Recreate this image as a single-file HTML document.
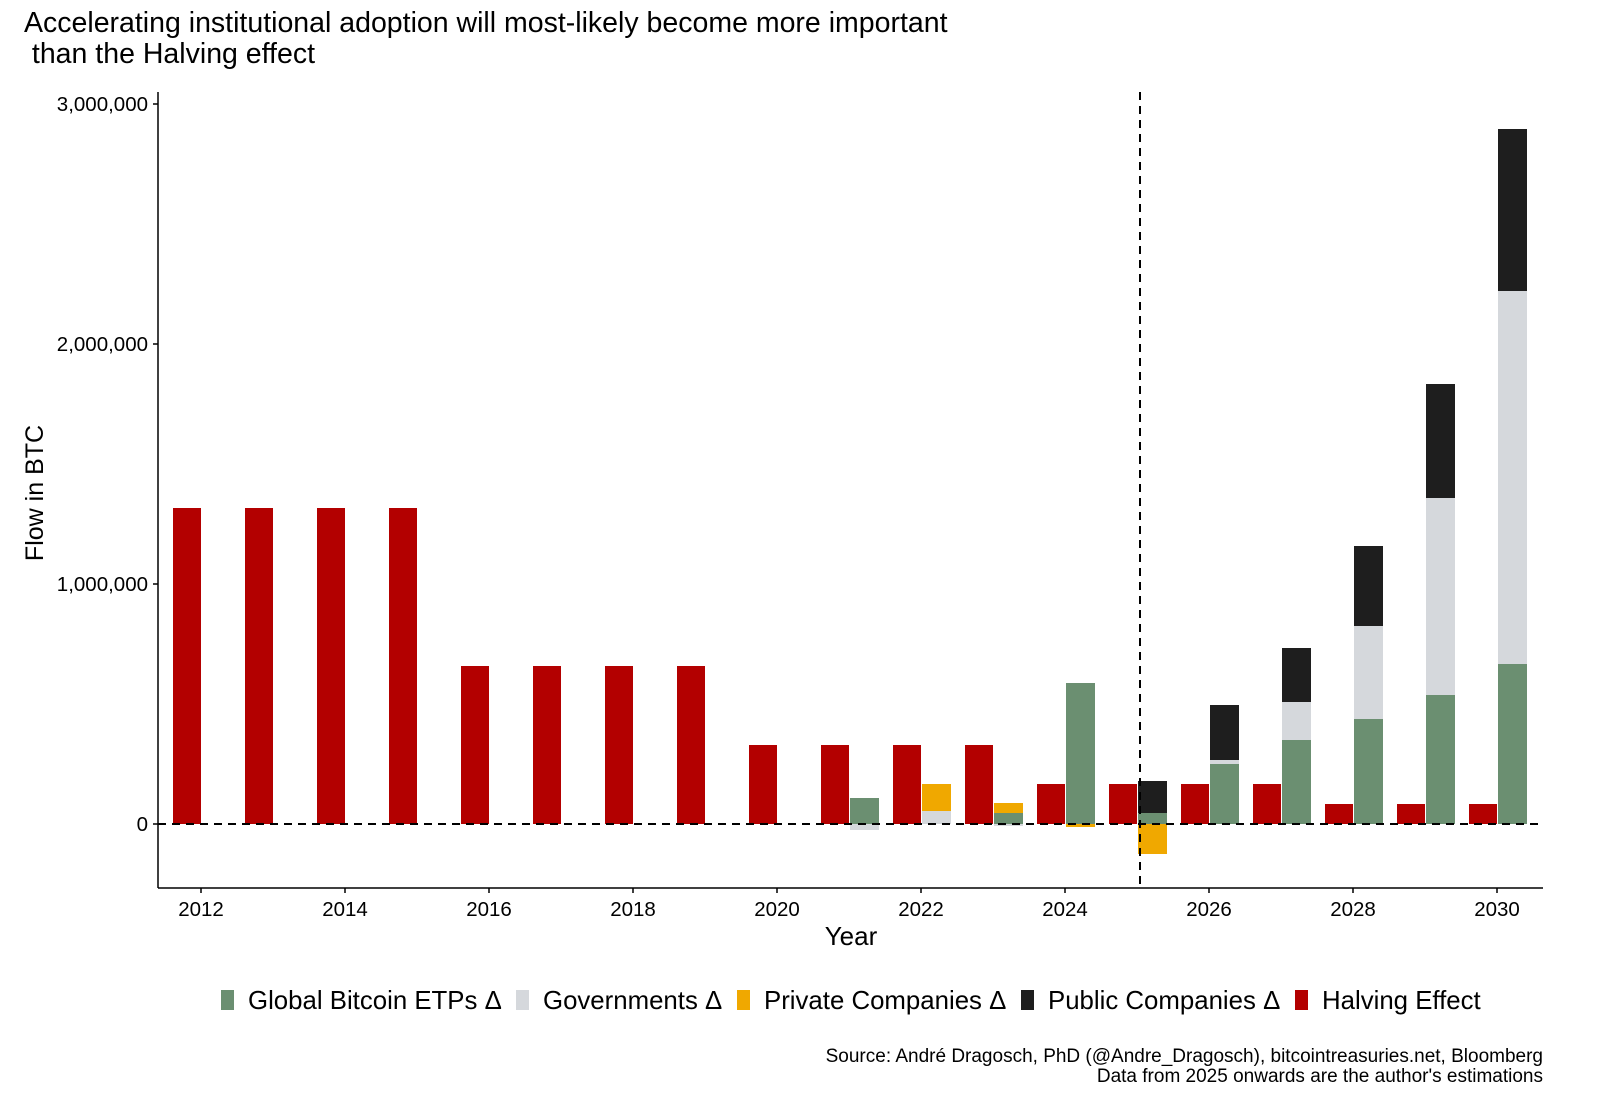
<!DOCTYPE html>
<html><head><meta charset="utf-8"><style>
html,body{margin:0;padding:0;background:#fff;}
svg{display:block;font-family:"Liberation Sans",Arial,sans-serif;}
</style></head><body>
<svg width="1600" height="1120" viewBox="0 0 1600 1120" xmlns="http://www.w3.org/2000/svg">
<rect width="1600" height="1120" fill="#fff"/>
<text x="24" y="32" font-size="28.5" fill="#000">Accelerating institutional adoption will most-likely become more important</text>
<text x="24" y="63" font-size="28.5" fill="#000">&#160;than the Halving effect</text>

<g fill="#b30000">
<rect x="173" y="508" width="28" height="316"/>
<rect x="245" y="508" width="28" height="316"/>
<rect x="317" y="508" width="28" height="316"/>
<rect x="389" y="508" width="28" height="316"/>
<rect x="461" y="666" width="28" height="158"/>
<rect x="533" y="666" width="28" height="158"/>
<rect x="605" y="666" width="28" height="158"/>
<rect x="677" y="666" width="28" height="158"/>
<rect x="749" y="745" width="28" height="79"/>
<rect x="821" y="745" width="28" height="79"/>
<rect x="893" y="745" width="28" height="79"/>
<rect x="965" y="745" width="28" height="79"/>
<rect x="1037" y="784" width="28" height="40"/>
<rect x="1109" y="784" width="28" height="40"/>
<rect x="1181" y="784" width="28" height="40"/>
<rect x="1253" y="784" width="28" height="40"/>
<rect x="1325" y="804" width="28" height="20"/>
<rect x="1397" y="804" width="28" height="20"/>
<rect x="1469" y="804" width="28" height="20"/>
</g>
<rect x="850" y="798" width="29" height="26" fill="#6b8f71"/>
<rect x="850" y="824" width="29" height="6" fill="#d5d8dc"/>
<rect x="922" y="811" width="29" height="13" fill="#d5d8dc"/>
<rect x="922" y="784" width="29" height="27" fill="#f0a800"/>
<rect x="994" y="813" width="29" height="11" fill="#6b8f71"/>
<rect x="994" y="803" width="29" height="10" fill="#f0a800"/>
<rect x="994" y="824" width="29" height="2" fill="#d5d8dc"/>
<rect x="1066" y="683" width="29" height="141" fill="#6b8f71"/>
<rect x="1066" y="824" width="29" height="3" fill="#f0a800"/>
<rect x="1138" y="813" width="29" height="11" fill="#6b8f71"/>
<rect x="1138" y="781" width="29" height="32" fill="#1e1e1e"/>
<rect x="1138" y="824" width="29" height="30" fill="#f0a800"/>
<rect x="1210" y="764" width="29" height="60" fill="#6b8f71"/>
<rect x="1210" y="760" width="29" height="4" fill="#d5d8dc"/>
<rect x="1210" y="705" width="29" height="55" fill="#1e1e1e"/>
<rect x="1282" y="740" width="29" height="84" fill="#6b8f71"/>
<rect x="1282" y="702" width="29" height="38" fill="#d5d8dc"/>
<rect x="1282" y="648" width="29" height="54" fill="#1e1e1e"/>
<rect x="1354" y="719" width="29" height="105" fill="#6b8f71"/>
<rect x="1354" y="626" width="29" height="93" fill="#d5d8dc"/>
<rect x="1354" y="546" width="29" height="80" fill="#1e1e1e"/>
<rect x="1426" y="695" width="29" height="129" fill="#6b8f71"/>
<rect x="1426" y="498" width="29" height="197" fill="#d5d8dc"/>
<rect x="1426" y="384" width="29" height="114" fill="#1e1e1e"/>
<rect x="1498" y="664" width="29" height="160" fill="#6b8f71"/>
<rect x="1498" y="291" width="29" height="373" fill="#d5d8dc"/>
<rect x="1498" y="129" width="29" height="162" fill="#1e1e1e"/>

<line x1="158" y1="824" x2="1543" y2="824" stroke="#000" stroke-width="2" stroke-dasharray="8,6"/>
<line x1="1140" y1="92" x2="1140" y2="888" stroke="#000" stroke-width="2" stroke-dasharray="8,6"/>

<g stroke="#000" stroke-width="1.5">
<line x1="158" y1="92" x2="158" y2="888"/>
<line x1="158" y1="888" x2="1543" y2="888"/>
<line x1="153" y1="104" x2="158" y2="104"/>
<line x1="153" y1="344" x2="158" y2="344"/>
<line x1="153" y1="584" x2="158" y2="584"/>
<line x1="153" y1="824" x2="158" y2="824"/>
<line x1="201" y1="888" x2="201" y2="893"/>
<line x1="345" y1="888" x2="345" y2="893"/>
<line x1="489" y1="888" x2="489" y2="893"/>
<line x1="633" y1="888" x2="633" y2="893"/>
<line x1="777" y1="888" x2="777" y2="893"/>
<line x1="921" y1="888" x2="921" y2="893"/>
<line x1="1065" y1="888" x2="1065" y2="893"/>
<line x1="1209" y1="888" x2="1209" y2="893"/>
<line x1="1353" y1="888" x2="1353" y2="893"/>
<line x1="1497" y1="888" x2="1497" y2="893"/>
</g>
<g font-size="20.5" fill="#000" text-anchor="end">
<text x="148" y="111">3,000,000</text>
<text x="148" y="351">2,000,000</text>
<text x="148" y="591">1,000,000</text>
<text x="148" y="831">0</text>
</g>
<g font-size="20.5" fill="#000" text-anchor="middle">
<text x="201" y="916">2012</text><text x="345" y="916">2014</text><text x="489" y="916">2016</text>
<text x="633" y="916">2018</text><text x="777" y="916">2020</text><text x="921" y="916">2022</text>
<text x="1065" y="916">2024</text><text x="1209" y="916">2026</text><text x="1353" y="916">2028</text>
<text x="1497" y="916">2030</text>
</g>
<text x="851" y="945" font-size="26" text-anchor="middle">Year</text>
<text transform="translate(43,493) rotate(-90)" font-size="25" text-anchor="middle">Flow in BTC</text>

<g font-size="25.8" fill="#000">
<rect x="221" y="990" width="13" height="20" fill="#6b8f71"/><text x="248" y="1009">Global Bitcoin ETPs Δ</text>
<rect x="516" y="990" width="13" height="20" fill="#d5d8dc"/><text x="543" y="1009">Governments Δ</text>
<rect x="737" y="990" width="13" height="20" fill="#f0a800"/><text x="764" y="1009">Private Companies Δ</text>
<rect x="1021" y="990" width="13" height="20" fill="#1e1e1e"/><text x="1048" y="1009">Public Companies Δ</text>
<rect x="1295" y="990" width="13" height="20" fill="#b30000"/><text x="1322" y="1009">Halving Effect</text>
</g>
<g font-size="19" fill="#000" text-anchor="end">
<text x="1543" y="1062">Source: André Dragosch, PhD (@Andre_Dragosch), bitcointreasuries.net, Bloomberg</text>
<text x="1543" y="1082">Data from 2025 onwards are the author's estimations</text>
</g>
</svg>
</body></html>
